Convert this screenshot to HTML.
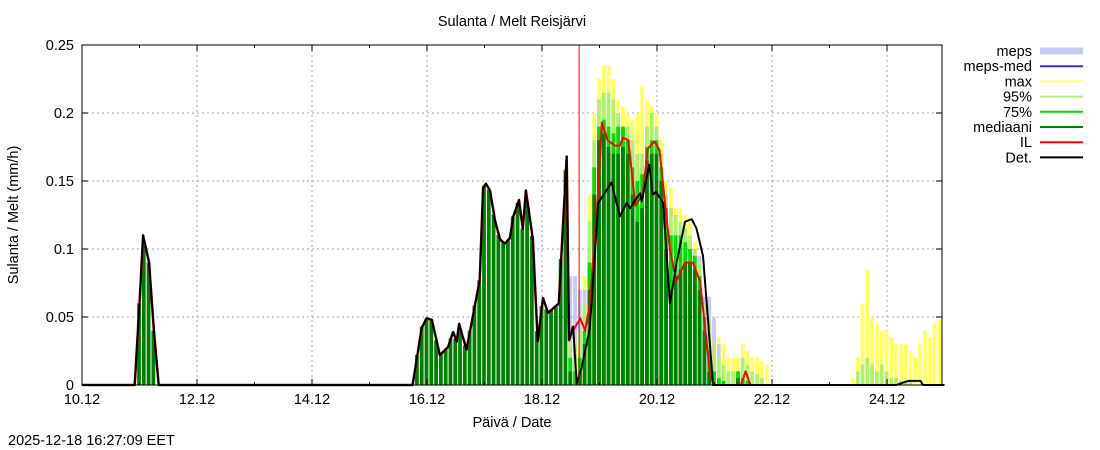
<!DOCTYPE html>
<html><head><meta charset="utf-8"><style>
body{margin:0;background:#fff;}
svg{display:block;font-family:"Liberation Sans",sans-serif;}
</style></head><body>
<svg id="c" width="1100" height="450" xmlns="http://www.w3.org/2000/svg"></svg>
<script>
// ---- data ----
const xTickLabels=["10.12","12.12","14.12","16.12","18.12","20.12","22.12","24.12"];
const yTickLabels=["0","0.05","0.1","0.15","0.2","0.25"];
const yTickValues=[0,0.05,0.1,0.15,0.2,0.25];
const nowHour=207.5;
const detHours=[0,22,24,25.5,28,30,32,138,141.8,143.8,146,149.4,152.8,154.9,156.4,157.4,160.5,164.7,166,167.4,168.6,170.3,172.4,174.5,176.5,178.6,180,182.4,184,185.3,188.2,190.2,192.4,194.5,199,202.3,203.3,205,206.5,208.5,212,215.5,221,224.5,227.3,228.7,232.9,233.6,236.8,238.2,239.6,242.6,245.4,248.2,251.7,254.5,256.5,259.2,263.4,340,343,345,350,351,360];
const detValues=[0,0,0.06,0.11,0.09,0.04,0,0,0.042,0.049,0.048,0.022,0.028,0.039,0.032,0.045,0.026,0.065,0.077,0.145,0.148,0.143,0.121,0.107,0.104,0.108,0.124,0.136,0.115,0.143,0.107,0.032,0.064,0.053,0.06,0.168,0.033,0.043,0.001,0.0125,0.042,0.134,0.149,0.124,0.134,0.13,0.141,0.135,0.162,0.14,0.142,0.134,0.06,0.09,0.12,0.122,0.115,0.095,0,0,0.002,0.003,0.003,0,0];
const ilHours=[203.3,205,208,210,212,215.5,217,219.4,222.4,224.5,225.8,228,231,234,236.2,239,241,245.4,248,251.7,255,258,262,263.5,275,277,279];
const ilValues=[0.033,0.04,0.049,0.04,0.06,0.143,0.193,0.18,0.176,0.176,0.182,0.18,0.132,0.14,0.174,0.179,0.173,0.1,0.076,0.09,0.09,0.076,0.011,0,0,0.01,0];
const ensStart=204;
const medVals=[0.01,0,0.01,0.03,0.07,0.14,0.18,0.185,0.175,0.17,0.17,0.175,0.17,0.14,0.12,0.13,0.165,0.17,0.17,0.15,0.1,0.07,0.08,0.085,0.09,0.09,0.085,0.07,0.04,0.01,0,0,0,0,0,0.005,0,0,0,0,0,0,0,0,0,0,0,0,0,0,0,0,0,0,0,0,0,0,0,0,0,0,0,0,0,0,0,0,0,0,0,0,0,0,0,0,0,0];
const p75Vals=[0.02,0.01,0.02,0.04,0.09,0.16,0.19,0.195,0.19,0.185,0.19,0.19,0.18,0.16,0.15,0.155,0.175,0.18,0.18,0.16,0.13,0.11,0.11,0.11,0.105,0.1,0.095,0.08,0.05,0.025,0.01,0.005,0.003,0,0,0.01,0.005,0.003,0,0,0,0,0,0,0,0,0,0,0,0,0,0,0,0,0,0,0,0,0,0,0,0,0,0,0,0,0,0,0,0,0,0,0,0,0,0,0,0];
const p95Vals=[0.03,0.03,0.04,0.06,0.12,0.18,0.21,0.215,0.215,0.21,0.2,0.19,0.19,0.18,0.17,0.17,0.19,0.2,0.19,0.17,0.14,0.13,0.125,0.12,0.115,0.11,0.1,0.09,0.06,0.045,0.03,0.02,0.015,0.01,0.01,0.01,0.02,0.015,0.01,0.008,0.005,0,0,0,0,0,0,0,0,0,0,0,0,0,0,0,0,0,0,0,0.01,0.015,0.02,0.015,0.01,0.015,0.01,0.005,0.005,0.003,0.003,0.003,0,0,0,0,0,0];
const maxVals=[0.035,0.04,0.05,0.08,0.14,0.2,0.225,0.235,0.235,0.225,0.21,0.205,0.2,0.195,0.2,0.22,0.21,0.205,0.2,0.18,0.15,0.145,0.13,0.13,0.125,0.12,0.105,0.09,0.06,0.05,0.04,0.035,0.03,0.02,0.02,0.02,0.03,0.025,0.02,0.02,0.018,0.015,0,0,0,0,0,0,0,0,0,0,0,0,0,0,0,0,0,0.005,0.02,0.06,0.085,0.05,0.045,0.04,0.04,0.035,0.03,0.03,0.03,0.025,0.02,0.03,0.04,0.035,0.045,0.048];
const mepsVals=[0.08,0.08,0.07,0.07,0.12,0.17,0.2,0.205,0.205,0.2,0.19,0.185,0.18,0.175,0.17,0.17,0.185,0.19,0.18,0.16,0.13,0.12,0.11,0.11,0.11,0.1,0.1,0.095,0.065,0.065,0.05,0.03,0.01,0,0,0,0,0,0,0,0,0,0,0,0,0,0,0,0,0,0,0,0,0,0,0,0,0,0,0,0,0,0,0,0,0,0,0,0,0,0,0,0,0,0,0,0,0];

const L=82,R=942,T=45,B=385;
const pxPerHour=57.5/24;
const X=h=>L+h*pxPerHour;
const Y=v=>B-(v/0.25)*(B-T);
const svg=document.getElementById('c');
const NS='http://www.w3.org/2000/svg';
function mk(tag,attrs,parent){const e=document.createElementNS(NS,tag);for(const k in attrs)e.setAttribute(k,attrs[k]);(parent||svg).appendChild(e);return e;}
function interp(hs,vs,h){if(h<=hs[0])return vs[0];for(let i=1;i<hs.length;i++){if(h<=hs[i]){const t=(h-hs[i-1])/(hs[i]-hs[i-1]);return vs[i-1]+t*(vs[i]-vs[i-1]);}}return vs[vs.length-1];}

const frame=mk('rect',{x:L,y:T,width:R-L,height:B-T,fill:'#fff',stroke:'none'});



const grid=mk('g',{stroke:'#a0a0a0','stroke-width':1,'stroke-dasharray':'2,3'});


xTickLabels.forEach((l,i)=>{const x=X(i*48);if(i>0)mk('line',{x1:x,y1:T,x2:x,y2:B},grid);});
yTickValues.forEach(v=>{if(v>0&&v<0.25)mk('line',{x1:L,y1:Y(v),x2:R,y2:Y(v)},grid);});

const bw=2*pxPerHour;
function bars(vals,color,name){
  const g=mk('g',{fill:color});
  
  
  vals.forEach((v,i)=>{if(v<=0)return;const h=ensStart+i*2;const x=X(h)-bw/2;
    const r=mk('rect',{x:x,y:Y(v),width:bw-1,height:B-Y(v)},g);
    
    });
}
bars(maxVals,'#ffff60','max-bars');
bars(mepsVals,'#c8c8f8','meps-band');
bars(p95Vals,'#b0f070','p95-bars');
bars(p75Vals,'#00e000','p75-bars');
bars(medVals,'#008000','median-bars');
const hg=mk('g',{fill:'#008000'});


for(let h=0;h<ensStart;h+=2){const v=interp(detHours,detValues,h);if(v<=0.001)continue;
  const r=mk('rect',{x:X(h)-bw/2,y:Y(v),width:bw-1,height:B-Y(v)},hg);
  
  }

function line(hs,vs,color,w,name){const d=hs.map((h,i)=>(i?'L':'M')+X(h).toFixed(1)+','+Y(vs[i]).toFixed(1)).join('');
  const p=mk('path',{d:d,fill:'none',stroke:color,'stroke-width':w,'stroke-linejoin':'round'});
  
  }
line(detHours.filter(h=>h<=205),detValues.filter((v,i)=>detHours[i]<=205),'#c00000',2.5,'il-history-line');
line(ilHours,ilValues,'#ff0000',2,'il-line');
line(detHours,detValues,'#000',2,'det-line');

const nl=mk('line',{x1:X(nowHour),y1:T,x2:X(nowHour),y2:B,stroke:'#ff0000','stroke-width':1});



const bd=mk('rect',{x:L,y:T,width:R-L,height:B-T,fill:'none',stroke:'#000','stroke-width':1});



const xa=mk('g',{'font-size':14.5,'text-anchor':'middle',fill:'#000'});


xTickLabels.forEach((l,i)=>{const x=X(i*48);
  mk('line',{x1:x,y1:B,x2:x,y2:B-6,stroke:'#000'},xa);mk('line',{x1:x,y1:T,x2:x,y2:T+6,stroke:'#000'},xa);
  const t=mk('text',{x:x,y:404},xa);t.textContent=l;
  
  });
for(let d=1;d<15;d+=2){const x=X(d*24);mk('line',{x1:x,y1:B,x2:x,y2:B-3,stroke:'#000'},xa);mk('line',{x1:x,y1:T,x2:x,y2:T+3,stroke:'#000'},xa);}
const ya=mk('g',{'font-size':14.5,'text-anchor':'end',fill:'#000'});


yTickValues.forEach((v,i)=>{const y=Y(v);
  mk('line',{x1:L,y1:y,x2:L+6,y2:y,stroke:'#000'},ya);mk('line',{x1:R,y1:y,x2:R-6,y2:y,stroke:'#000'},ya);
  const t=mk('text',{x:74,y:y+5},ya);t.textContent=yTickLabels[i];
  
  });

function txt(x,y,s,attrs,name){const t=mk('text',Object.assign({x:x,y:y,'font-size':14.5,fill:'#000'},attrs||{}));t.textContent=s;
  
  return t;}
txt(512,26,'Sulanta / Melt  Reisjärvi',{'text-anchor':'middle'},'chart-title');
txt(512,427,'Päivä / Date',{'text-anchor':'middle'},'x-axis-title');
txt(18,215,'Sulanta / Melt (mm/h)',{'text-anchor':'middle',transform:'rotate(-90 18 215)'},'y-axis-title');
txt(8,445,'2025-12-18 16:27:09 EET',{},'timestamp');

const legNames=['meps','meps-med','max','95%','75%','mediaani','IL','Det.'];
const legColors=['#c8c8f8','#3030d0','#ffff60','#b0f070','#00e000','#008000','#ff0000','#000'];
const lg=mk('g',{});


legNames.forEach((n,i)=>{const y=51+i*15.2;
  const e=mk('g',{},lg);
  
  
  const t=mk('text',{x:1032,y:y+5,'font-size':14.5,'text-anchor':'end',fill:'#000'},e);t.textContent=n;
  mk('line',{x1:1040,y1:y,x2:1083,y2:y,stroke:legColors[i],'stroke-width':i===0?7:2},e);});
</script>
</body></html>
